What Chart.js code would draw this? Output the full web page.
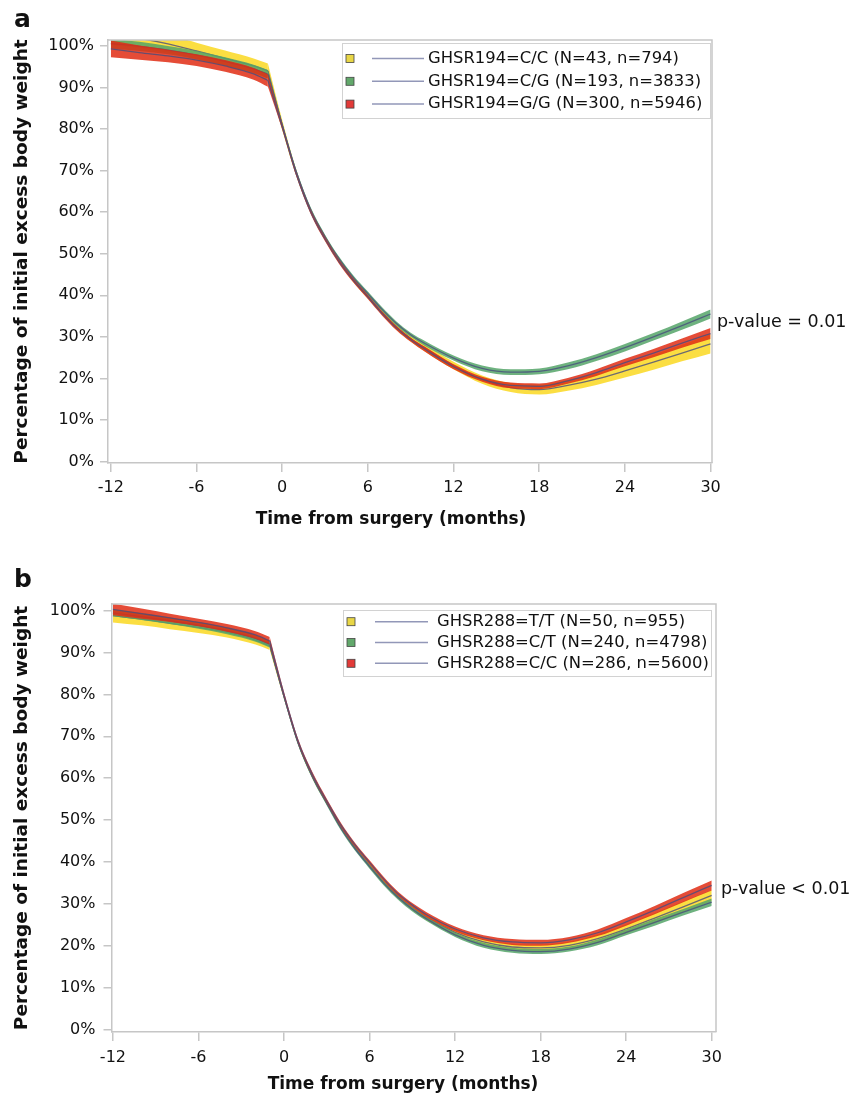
<!DOCTYPE html>
<html>
<head>
<meta charset="utf-8">
<script src="https://cdn.jsdelivr.net/npm/chart.js@4.4.1/dist/chart.umd.min.js"></script>
<style>
  html, body { margin: 0; padding: 0; background: #fff; }
  #wrap { position: relative; width: 853px; height: 1102px; }
  canvas { position: absolute; left: 0; }
</style>
</head>
<body>
<div id="wrap">
  <canvas id="panelA" width="853" height="560" style="top:0"></canvas>
  <canvas id="panelB" width="853" height="542" style="top:560px"></canvas>
</div>
<script>
// months from surgery, shared by all curves (index 6 = -1, where the drop starts)
const months = [-12,-10,-8,-6,-4,-2,-1,0,1,2,3,4,5,6,7,8,9,10,12,14,16,18,20,22,24,26,28,30];
const kinkIndex = 6;
const xTicks = [-12,-6,0,6,12,18,24,30];
const yTicks = [0,10,20,30,40,50,60,70,80,90,100];

// panel a - GHSR194
const labelsA = ['GHSR194=C/C (N=43, n=794)', 'GHSR194=C/G (N=193, n=3833)', 'GHSR194=G/G (N=300, n=5946)'];
const meanA_CC = [102.6,101.8,100.5,98.8,97,95.2,94,81,69.3,60.3,53.8,48.3,43.7,39.8,35.9,32.4,29.6,27.3,23.1,19.7,17.8,17.3,18.3,19.8,21.8,23.9,26.1,28.3];
const bandA_CC = [2.5,2.4,2.2,2,1.9,1.8,1.8,1.2,0.8,0.6,0.6,0.6,0.6,0.6,0.6,0.7,0.7,0.8,0.9,1,1.1,1.2,1.3,1.4,1.6,1.8,2,2.3];
const meanA_CG = [100.6,99.9,99,97.8,96.3,94.5,93.2,81,69.6,60.6,54.1,48.7,44.2,40.4,36.6,33.2,30.5,28.4,24.9,22.4,21.5,21.7,23,25,27.4,30,32.7,35.5];
const bandA_CG = [1.2,1.1,1,1,1,1,1,0.6,0.5,0.5,0.5,0.5,0.5,0.5,0.5,0.5,0.5,0.6,0.6,0.7,0.7,0.7,0.8,0.8,0.9,0.9,1,1.1];
const meanA_GG = [99.3,98.4,97.6,96.6,95.2,93.3,91.7,80.5,69,60,53.5,48,43.5,39.6,35.6,32.1,29.3,27,22.8,19.8,18.3,18.1,19.4,21.4,23.8,26.1,28.5,30.8];
const bandA_GG = [2,1.7,1.5,1.4,1.4,1.4,1.5,0.6,0.5,0.5,0.5,0.5,0.5,0.5,0.5,0.5,0.5,0.6,0.6,0.6,0.7,0.7,0.7,0.8,0.9,1,1.1,1.3];

// panel b - GHSR288
const labelsB = ['GHSR288=T/T (N=50, n=955)', 'GHSR288=C/T (N=240, n=4798)', 'GHSR288=C/C (N=286, n=5600)'];
const meanB_TT = [98.8,98,97,96,94.8,93,91.6,79.5,68.4,60.4,54.2,48.3,43.4,39.2,35.2,31.8,29,26.7,23.2,20.9,19.7,19.5,20.1,21.7,24,26.6,29.3,32];
const bandB_TT = [1.6,1.5,1.4,1.3,1.2,1.1,1,0.6,0.5,0.5,0.5,0.5,0.5,0.5,0.5,0.5,0.5,0.6,0.6,0.7,0.8,0.8,0.9,1,1.1,1.2,1.3,1.3];
const meanB_CT = [99.5,98.6,97.6,96.5,95.2,93.4,92,79.5,68.3,60.3,54,48,43.1,38.9,34.9,31.5,28.7,26.4,22.6,20.1,18.9,18.6,19.2,20.8,23.2,25.6,28,30.4];
const bandB_CT = [0.8,0.8,0.8,0.8,0.8,0.8,0.8,0.5,0.5,0.5,0.5,0.5,0.5,0.5,0.5,0.5,0.5,0.5,0.5,0.6,0.6,0.6,0.6,0.7,0.7,0.8,0.8,0.9];
const meanB_CC = [100.3,99.3,98.3,97.2,95.9,94.2,92.8,80,68.8,60.9,54.6,48.8,44,39.9,35.9,32.4,29.7,27.4,24,21.9,20.9,20.7,21.4,23.1,25.7,28.5,31.5,34.4];
const bandB_CC = [1.4,1.2,1,0.9,0.9,0.9,0.9,0.6,0.5,0.5,0.5,0.5,0.5,0.5,0.5,0.5,0.5,0.6,0.6,0.6,0.7,0.7,0.7,0.8,0.9,1,1.1,1.2];

const bandColors = ['rgba(250,218,40,0.88)', 'rgba(85,165,105,0.85)', 'rgba(225,45,20,0.85)'];
const swatchColors = ['#e8d646', '#62a86b', '#e23a38'];
const meanColor = 'rgba(72,78,125,0.8)';
const legendLine = '#9297b8';
const axisGrey = '#c6c6c6';
const FONT = '"DejaVu Sans", sans-serif';

const decor = {
  id: 'decor',
  afterDraw(chart, args, o) {
    const { ctx, chartArea: a } = chart;
    ctx.save();
    // top and right frame
    ctx.strokeStyle = axisGrey;
    ctx.lineWidth = 1.5;
    ctx.beginPath();
    ctx.moveTo(a.left, a.top);
    ctx.lineTo(a.right, a.top);
    ctx.lineTo(a.right, a.bottom);
    ctx.stroke();

    // legend
    const L = o.legend;
    ctx.fillStyle = '#fff';
    ctx.fillRect(L.x, L.y, L.w, L.h);
    ctx.strokeStyle = '#d2d2d2';
    ctx.lineWidth = 1;
    ctx.strokeRect(L.x + 0.5, L.y + 0.5, L.w, L.h);
    ctx.font = '16.4px ' + FONT;
    ctx.textBaseline = 'middle';
    o.labels.forEach((t, i) => {
      const cy = L.y + L.first + i * L.step;
      ctx.fillStyle = swatchColors[i];
      ctx.fillRect(L.x + 4, cy - 4, 8, 8);
      ctx.strokeStyle = '#444';
      ctx.lineWidth = 0.8;
      ctx.strokeRect(L.x + 4, cy - 4, 8, 8);
      ctx.strokeStyle = legendLine;
      ctx.lineWidth = 1.5;
      ctx.beginPath();
      ctx.moveTo(L.x + L.line0, cy);
      ctx.lineTo(L.x + L.line1, cy);
      ctx.stroke();
      ctx.fillStyle = '#111';
      ctx.fillText(t, L.x + L.text, cy);
    });

    // x axis title (sits a bit left of the plot centre in the original)
    ctx.fillStyle = '#111';
    ctx.font = 'bold 17px ' + FONT;
    ctx.textAlign = 'center';
    ctx.fillText('Time from surgery (months)', o.xTitleX, o.xTitleY);

    // panel letter
    ctx.textAlign = 'left';
    ctx.font = 'bold 25px ' + FONT;
    ctx.textBaseline = 'alphabetic';
    ctx.fillText(o.letter, 14, 27);

    // p-value note
    ctx.font = '17.5px ' + FONT;
    ctx.textBaseline = 'middle';
    ctx.fillText(o.pText, a.right + 5, chart.scales.y.getPixelForValue(o.pAt));
    ctx.restore();
  }
};

function makePanel(id, p) {
  const datasets = [];
  const pieces = [[0, kinkIndex], [kinkIndex, months.length - 1]];
  p.groups.forEach((g, i) => {
    pieces.forEach(([from, to]) => {
      const idx = [];
      for (let k = from; k <= to; k++) idx.push(k);
      const base = datasets.length;
      datasets.push({
        data: idx.map(k => ({ x: months[k], y: g.mean[k] + g.band[k] })),
        borderWidth: 0, borderColor: 'transparent', pointRadius: 0,
        backgroundColor: bandColors[i], fill: base + 1, order: 30 - 3 * i
      });
      datasets.push({
        data: idx.map(k => ({ x: months[k], y: g.mean[k] - g.band[k] })),
        borderWidth: 0, borderColor: 'transparent', pointRadius: 0,
        fill: false, order: 29 - 3 * i
      });
      datasets.push({
        data: idx.map(k => ({ x: months[k], y: g.mean[k] })),
        borderWidth: 1.3, borderColor: meanColor, pointRadius: 0,
        fill: false, order: 28 - 3 * i
      });
    });
  });

  return new Chart(document.getElementById(id), {
    type: 'line',
    data: { datasets },
    plugins: [decor],
    options: {
      responsive: false,
      animation: false,
      events: [],
      layout: { padding: { left: 0, top: p.top, right: 853 - p.right, bottom: 0 } },
      elements: { line: { cubicInterpolationMode: 'monotone' } },
      plugins: {
        legend: { display: false },
        tooltip: { enabled: false },
        decor: { legend: p.legend, labels: p.labels, letter: p.letter, pText: p.pText, pAt: 33.5, xTitleX: p.xTitleX, xTitleY: p.xTitleY }
      },
      scales: {
        x: {
          type: 'linear', min: p.xMin, max: p.xMax,
          afterBuildTicks: s => { s.ticks = xTicks.map(v => ({ value: v })); },
          afterFit: s => { s.height = p.xAxisH; },
          grid: { drawOnChartArea: false, drawTicks: true, tickLength: 9, color: axisGrey, lineWidth: 1.5 },
          border: { color: axisGrey, width: 1.5 },
          ticks: { color: '#111', font: { family: FONT, size: 16 }, padding: p.xTickPad, maxRotation: 0, autoSkip: false, callback: v => String(v) }
        },
        y: {
          min: p.yMin, max: p.yMax,
          afterBuildTicks: s => { s.ticks = yTicks.map(v => ({ value: v })); },
          afterFit: s => { s.width = p.left; },
          grid: { drawOnChartArea: false, drawTicks: true, tickLength: 8, color: axisGrey, lineWidth: 1.5 },
          border: { color: axisGrey, width: 1.5 },
          ticks: { color: '#111', font: { family: FONT, size: 16 }, padding: p.yTickPad, callback: v => v + '%' },
          title: { display: true, text: 'Percentage of initial excess body weight', color: '#111', font: { family: FONT, size: 18.5, weight: 'bold' }, padding: { top: 11, bottom: 0 } }
        }
      }
    }
  });
}

makePanel('panelA', {
  groups: [
    { mean: meanA_CC, band: bandA_CC },
    { mean: meanA_CG, band: bandA_CG },
    { mean: meanA_GG, band: bandA_GG }
  ],
  labels: labelsA, letter: 'a', pText: 'p-value = 0.01',
  top: 40, left: 108, right: 712, xAxisH: 97,
  xMin: -12.2, xMax: 30.1, yMin: -0.36, yMax: 101.44,
  xTickPad: 6, yTickPad: 6, xTitleX: 391, xTitleY: 520,
  legend: { x: 342, y: 43, w: 368, h: 75, first: 15.5, step: 22.8, line0: 30, line1: 82, text: 86 }
});

makePanel('panelB', {
  groups: [
    { mean: meanB_TT, band: bandB_TT },
    { mean: meanB_CT, band: bandB_CT },
    { mean: meanB_CC, band: bandB_CC }
  ],
  labels: labelsB, letter: 'b', pText: 'p-value < 0.01',
  top: 44, left: 111.5, right: 716, xAxisH: 70,
  xMin: -12.1, xMax: 30.3, yMin: -0.6, yMax: 101.6,
  xTickPad: 7, yTickPad: 8, xTitleX: 403, xTitleY: 525,
  legend: { x: 343, y: 50, w: 368, h: 66, first: 11.7, step: 20.8, line0: 32, line1: 85, text: 94 }
});
</script>
</body>
</html>
